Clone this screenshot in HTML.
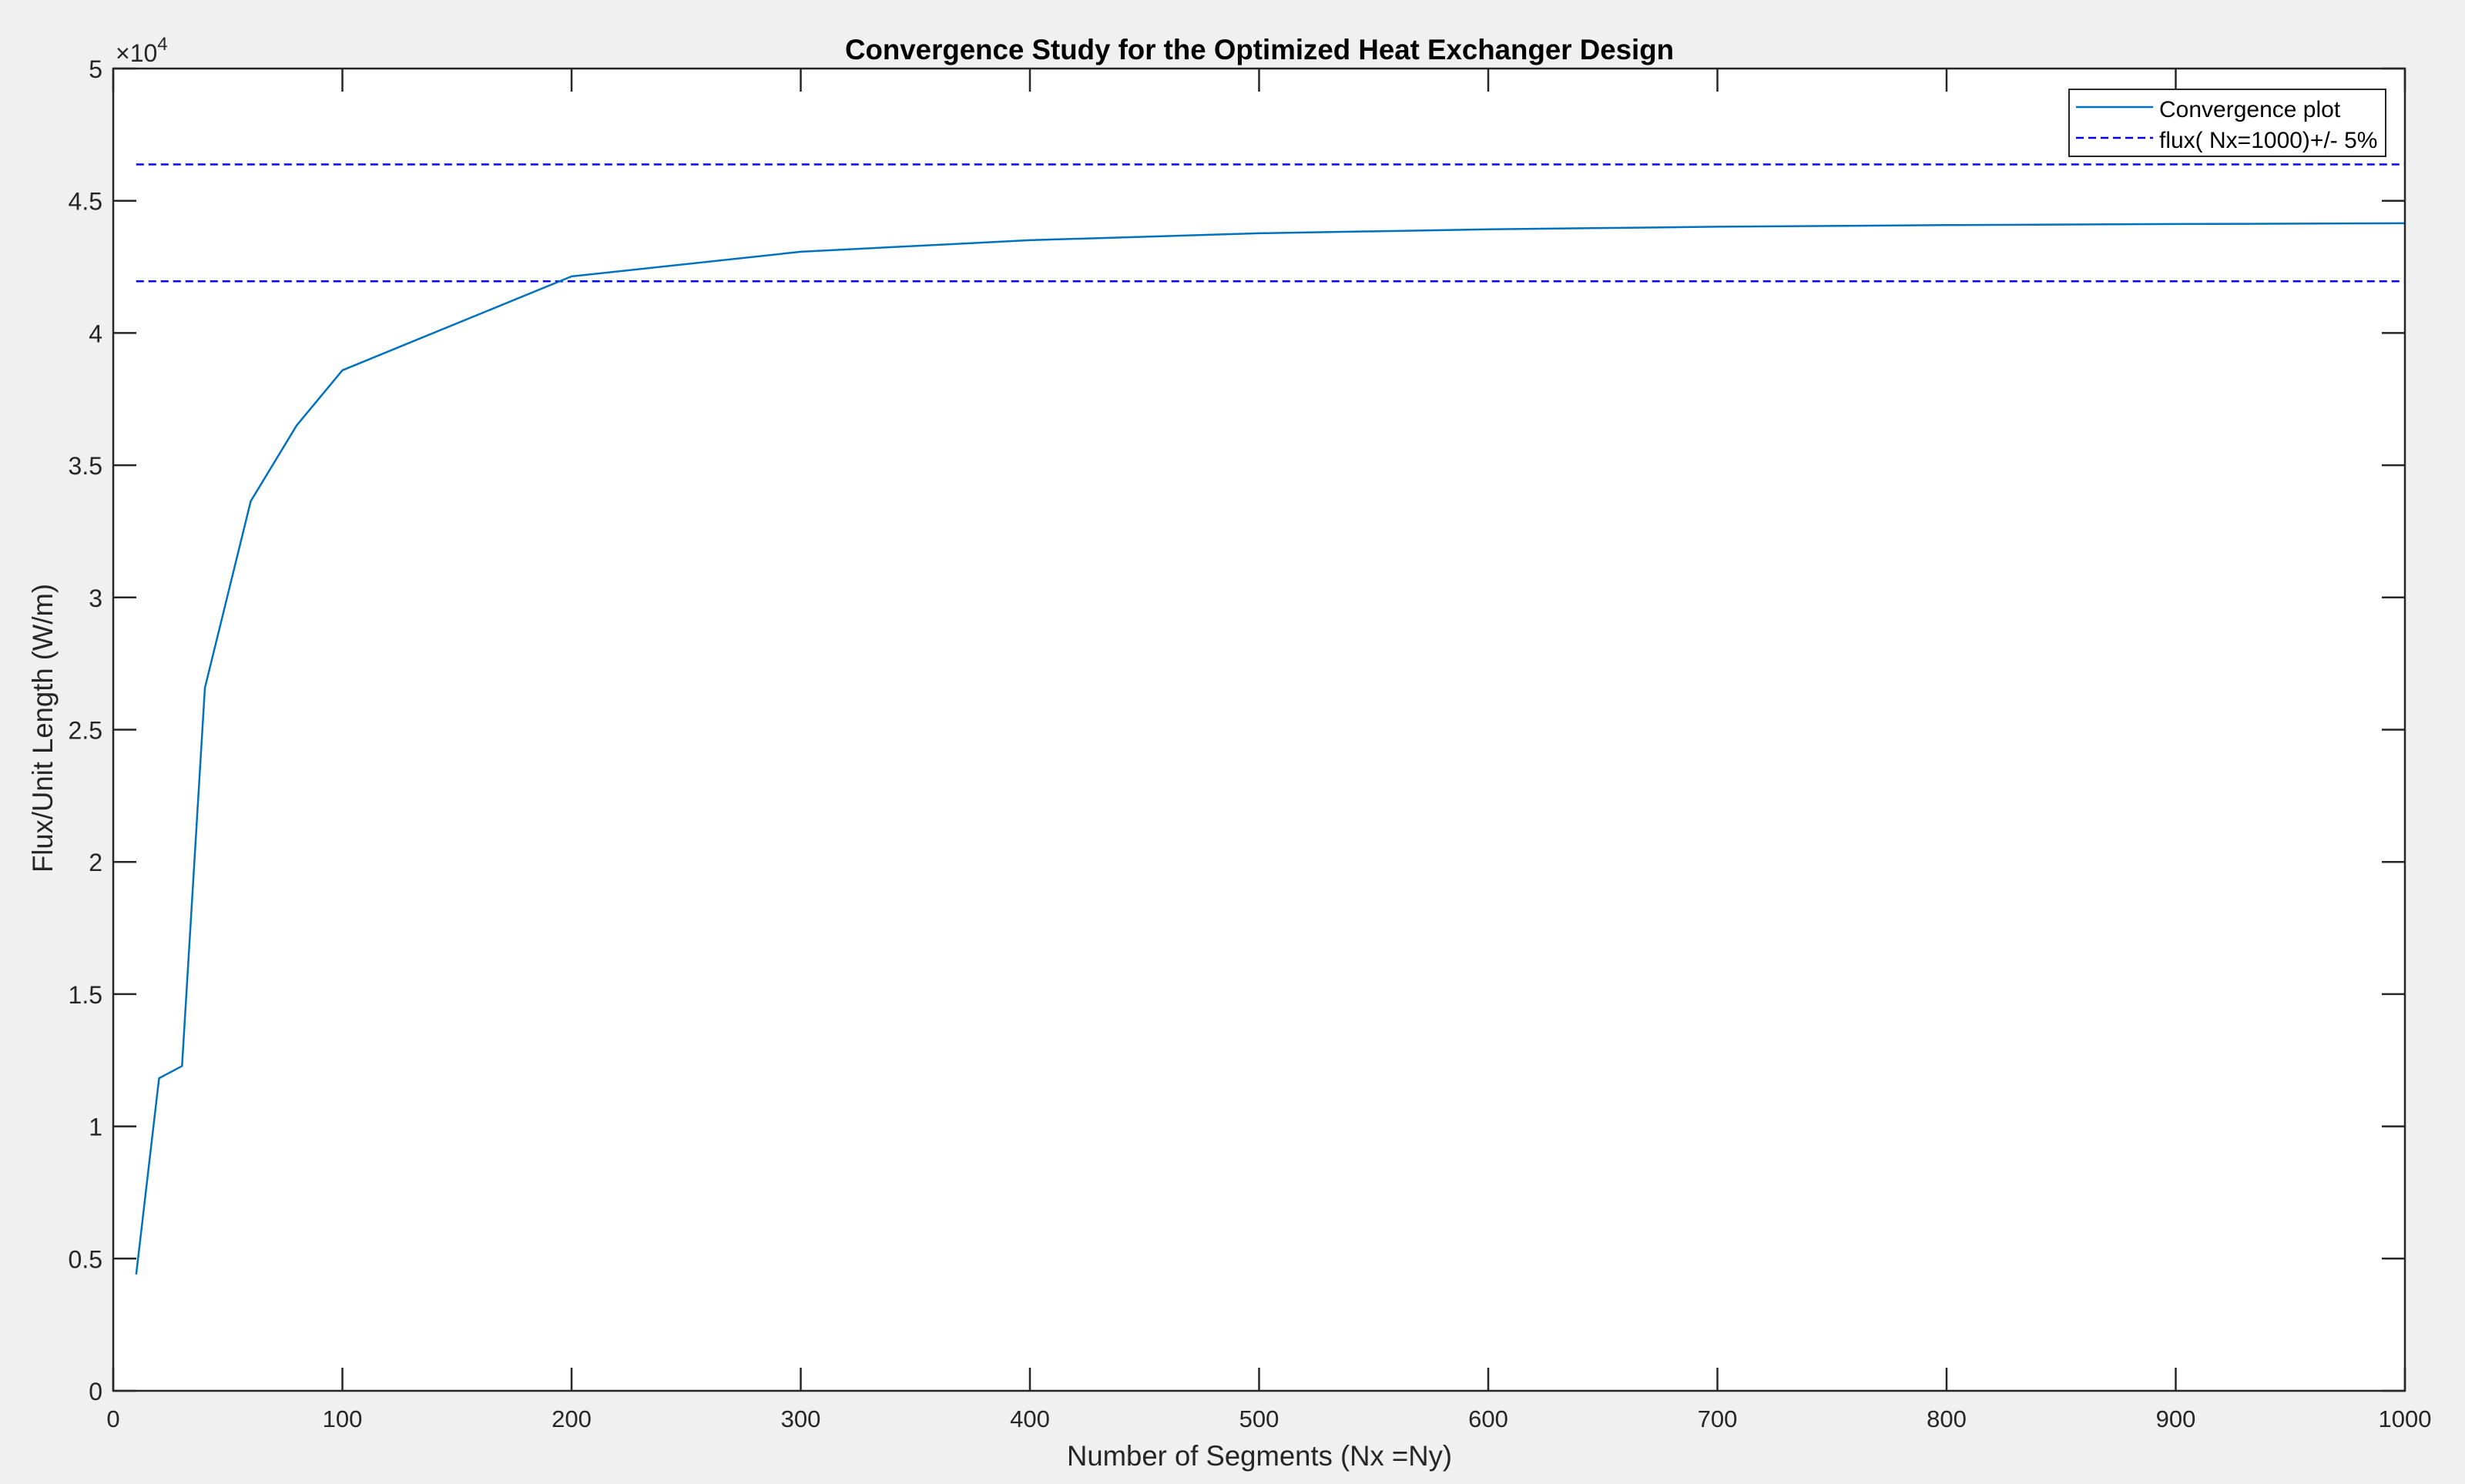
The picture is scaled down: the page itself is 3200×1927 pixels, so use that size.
<!DOCTYPE html>
<html><head><meta charset="utf-8"><style>
html,body{margin:0;padding:0;background:#f0f0f0;}
svg{display:block;font-family:"Liberation Sans",Arial,sans-serif;}
</style></head><body>
<svg id="chart" width="3200" height="1927" viewBox="0 0 3200 1927" xmlns="http://www.w3.org/2000/svg">
<rect x="0" y="0" width="3200" height="1927" fill="#f0f0f0"/>
<rect x="147" y="89" width="2975" height="1717" fill="#ffffff"/>
<g id="marks"></g>
<g id="axes"></g>
<text x="1097" y="77" textLength="1076" lengthAdjust="spacingAndGlyphs" font-size="37" font-weight="bold" fill="#000">Convergence Study for the Optimized Heat Exchanger Design</text>
<text x="1385" y="1903" textLength="500" lengthAdjust="spacingAndGlyphs" font-size="37" fill="#262626">Number of Segments (Nx =Ny)</text>
<text transform="translate(68,1133) rotate(-90)" textLength="375" lengthAdjust="spacingAndGlyphs" font-size="37" fill="#262626">Flux/Unit Length (W/m)</text>
<text x="150" y="80" font-size="32" fill="#262626">×10<tspan font-size="24" dy="-15">4</tspan></text>
<g>
<rect x="2686" y="116" width="411" height="87" fill="#fff" stroke="#262626" stroke-width="2"/>
<line x1="2695" y1="139" x2="2795" y2="139" stroke="#0072BD" stroke-width="2.5"/>
<text x="2803" y="152" font-size="30" fill="#000">Convergence plot</text>
<line x1="2695" y1="179" x2="2795" y2="179" stroke="#0000ff" stroke-width="2.5" stroke-dasharray="10,6"/>
<text x="2803" y="192" font-size="30" fill="#000">flux( Nx=1000)+/- 5%</text>
</g>
</svg>
<script>
const segments = [10,20,30,40,60,80,100,200,300,400,500,600,700,800,900,1000];
const fluxValues = [4400,11820,12280,26580,33640,36500,38590,42140,43073,43510,43770,43920,44020,44080,44120,44150];
const refFlux = 44165;
const boundFactors = [1.05,0.95];
const xTicks = [0,100,200,300,400,500,600,700,800,900,1000];
const yTicks = [0,5000,10000,15000,20000,25000,30000,35000,40000,45000,50000];
const yTickLabels = ["0","0.5","1","1.5","2","2.5","3","3.5","4","4.5","5"];

const L=147,R=3122,T=89,B=1806;
const xs=v=>L+(v-0)/(1000-0)*(R-L);
const ys=v=>B-(v-0)/(50000-0)*(B-T);
const NS="http://www.w3.org/2000/svg";
const marks=document.getElementById('marks'), axes=document.getElementById('axes');
function mk(tag,attrs,parent){const e=document.createElementNS(NS,tag);for(const k in attrs)e.setAttribute(k,attrs[k]);parent.appendChild(e);return e;}

boundFactors.forEach((f,i)=>{
  const y=ys(refFlux*f);
  const l=mk('line',{x1:xs(10),y1:y,x2:xs(1000),y2:y,stroke:'#0000ff','stroke-width':2.5,'stroke-dasharray':'10,6'},marks);
  
  
});
const pts=segments.map((s,i)=>xs(s).toFixed(1)+','+ys(fluxValues[i]).toFixed(1)).join(' ');
const pl=mk('polyline',{points:pts,fill:'none',stroke:'#0072BD','stroke-width':2.5,'stroke-linejoin':'round'},marks);



const frame=mk('rect',{x:L,y:T,width:R-L,height:B-T,fill:'none',stroke:'#262626','stroke-width':2.5},axes);


xTicks.forEach(v=>{
  const x=xs(v);
  mk('path',{d:`M${x},${B}v-30M${x},${T}v30`,stroke:'#262626','stroke-width':2.5},axes);
  const t=mk('text',{x:x,y:1853,'text-anchor':'middle','font-size':31,fill:'#262626'},axes);
  t.textContent=String(v);
  
  
});
yTicks.forEach((v,i)=>{
  const y=ys(v);
  mk('path',{d:`M${L},${y}h30M${R},${y}h-30`,stroke:'#262626','stroke-width':2.5},axes);
  const t=mk('text',{x:133,y:y+12,'text-anchor':'end','font-size':32,fill:'#262626'},axes);
  t.textContent=yTickLabels[i];
  
  
});
</script>
</body></html>
